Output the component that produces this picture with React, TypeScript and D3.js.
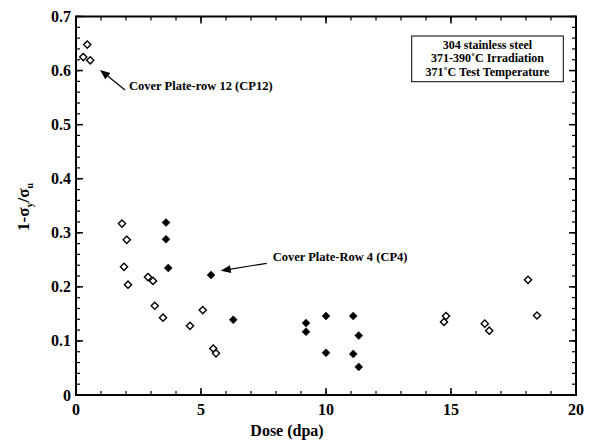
import React from "react";
import * as d3 from "d3";

// Dose (dpa) and 1 - σy/σu for the open (CP12 and other plates) and filled (CP4) specimens
const openDose = [0.29, 0.45, 0.57, 1.84, 2.03, 1.92, 2.08, 2.88, 3.08, 3.15, 3.48, 4.56, 5.07, 5.49, 5.6, 14.8, 14.72, 16.35, 16.53, 18.08, 18.44];
const openRatio = [0.625, 0.648, 0.619, 0.317, 0.287, 0.237, 0.204, 0.218, 0.211, 0.165, 0.143, 0.128, 0.157, 0.086, 0.077, 0.146, 0.135, 0.132, 0.119, 0.213, 0.147];

const filledDose = [3.6, 3.6, 3.69, 5.4, 6.29, 9.2, 9.2, 10.0, 11.09, 11.31, 10.0, 11.09, 11.31];
const filledRatio = [0.319, 0.288, 0.235, 0.222, 0.139, 0.133, 0.117, 0.146, 0.146, 0.11, 0.078, 0.076, 0.052];

const xTicks = [0, 5, 10, 15, 20];
const yTicks = [0, 0.1, 0.2, 0.3, 0.4, 0.5, 0.6, 0.7];
const xMinor = d3.range(0, 20.001, 1);
const yMinor = d3.range(0, 0.7001, 0.02);

const noteLines = ["304 stainless steel", "371-390˚C Irradiation", "371˚C  Test Temperature"];

const W = 599;
const H = 444;
const left = 76;
const right = 576;
const top = 16.5;
const bottom = 395;

const font = "'Liberation Serif', 'Times New Roman', serif";

export default function App() {
  const x = d3.scaleLinear().domain([0, 20]).range([left, right]);
  const y = d3.scaleLinear().domain([0, 0.7]).range([bottom, top]);
  const diamond = (cx: number, cy: number, r: number) =>
    `M${cx},${cy - r}L${cx + r},${cy}L${cx},${cy + r}L${cx - r},${cy}Z`;

  const arrowHead = (x1: number, y1: number, x2: number, y2: number) => {
    const a = Math.atan2(y2 - y1, x2 - x1);
    const L = 10, w = 4;
    const bx = x2 - L * Math.cos(a), by = y2 - L * Math.sin(a);
    const px = -Math.sin(a) * w, py = Math.cos(a) * w;
    return `M${x2},${y2}L${bx + px},${by + py}L${bx - px},${by - py}Z`;
  };

  return (
    <svg width={W} height={H} style={{ position: "absolute", left: 0, top: 0, background: "#fff" }}>
      <g fontFamily={font} fontWeight="bold" fill="#000">
        {/* frame */}
        <rect x={left} y={top} width={right - left} height={bottom - top} fill="none" stroke="#000" strokeWidth={2} />
        {/* minor ticks */}
        {xMinor.map((v, i) => (
          <g key={"xm" + i} stroke="#000" strokeWidth={1.2}>
            <line x1={x(v)} x2={x(v)} y1={bottom} y2={bottom - 4} />
            <line x1={x(v)} x2={x(v)} y1={top} y2={top + 4} />
          </g>
        ))}
        {yMinor.map((v, i) => (
          <g key={"ym" + i} stroke="#000" strokeWidth={1.2}>
            <line x1={left} x2={left + 4} y1={y(v)} y2={y(v)} />
            <line x1={right} x2={right - 4} y1={y(v)} y2={y(v)} />
          </g>
        ))}
        {/* major ticks and labels */}
        {xTicks.map((v) => (
          <g key={"x" + v}>
            <line x1={x(v)} x2={x(v)} y1={bottom} y2={bottom - 7} stroke="#000" strokeWidth={1.5} />
            <line x1={x(v)} x2={x(v)} y1={top} y2={top + 7} stroke="#000" strokeWidth={1.5} />
            <text x={x(v)} y={415} textAnchor="middle" fontSize={16}>{v}</text>
          </g>
        ))}
        {yTicks.map((v) => (
          <g key={"y" + v}>
            <line x1={left} x2={left + 7} y1={y(v)} y2={y(v)} stroke="#000" strokeWidth={1.5} />
            <line x1={right} x2={right - 7} y1={y(v)} y2={y(v)} stroke="#000" strokeWidth={1.5} />
            <text x={71} y={y(v) + 5.5} textAnchor="end" fontSize={16}>{v === 0 ? "0" : d3.format(".1f")(v)}</text>
          </g>
        ))}
        {/* axis titles */}
        <text x={287} y={436} textAnchor="middle" fontSize={16}>Dose (dpa)</text>
        <text transform={`translate(29,207) rotate(-90)`} textAnchor="middle" fontSize={17}>
          1-σ<tspan fontSize={10} dy={4}>y</tspan><tspan dy={-4}>/σ</tspan><tspan fontSize={10} dy={4}>u</tspan>
        </text>

        {/* data */}
        {openDose.map((d, i) => (
          <path key={"o" + i} d={diamond(x(d), y(openRatio[i]), 3.6)} fill="#fff" stroke="#000" strokeWidth={1.4} />
        ))}
        {filledDose.map((d, i) => (
          <path key={"f" + i} d={diamond(x(d), y(filledRatio[i]), 4)} fill="#000" stroke="#000" strokeWidth={0.5} />
        ))}

        {/* annotations */}
        <line x1={125} y1={90} x2={104} y2={73} stroke="#000" strokeWidth={1.2} />
        <path d={arrowHead(125, 90, 100, 70)} fill="#000" />
        <text x={129} y={89.5} fontSize={12.5}>Cover Plate-row 12 (CP12)</text>

        <line x1={266.7} y1={263.3} x2={226} y2={269.8} stroke="#000" strokeWidth={1.2} />
        <path d={arrowHead(266.7, 263.3, 220.7, 270.7)} fill="#000" />
        <text x={272.7} y={260.5} fontSize={12.5}>Cover Plate-Row 4 (CP4)</text>

        {/* note box */}
        <rect x={411.7} y={36} width={151.6} height={45.7} fill="#fff" stroke="#000" strokeWidth={1} />
        {noteLines.map((t, i) => (
          <text key={t} x={487.5} y={48.5 + i * 13.9} textAnchor="middle" fontSize={12}>{t}</text>
        ))}
      </g>
    </svg>
  );
}
